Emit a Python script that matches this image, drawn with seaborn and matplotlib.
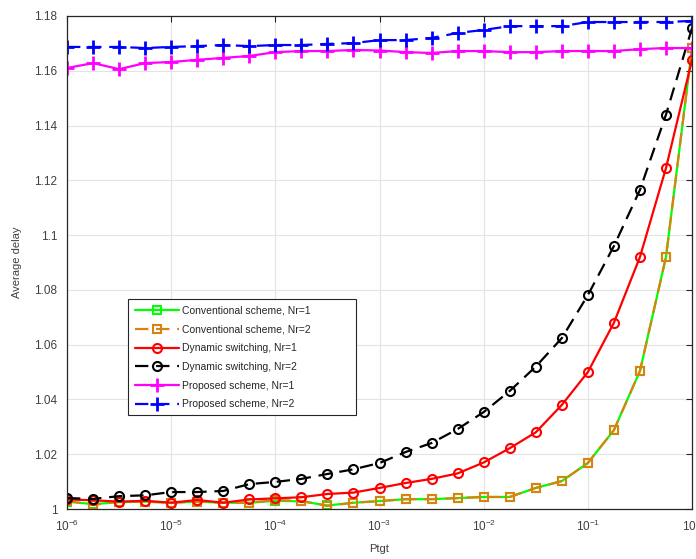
import numpy as np
import pandas as pd
import matplotlib
matplotlib.use("Agg")
import matplotlib.pyplot as plt
import matplotlib.ticker as mticker
from matplotlib.patches import Rectangle
import seaborn as sns

# x axis: Ptgt, 4 points per decade from 1e-6 to 1
ptgt = np.logspace(-6, 0, 25)

conv_nr1 = [1.0027, 1.0018, 1.0025, 1.0027, 1.0023, 1.0027, 1.0023, 1.0023, 1.0030, 1.0028, 1.0013,
            1.0023, 1.0029, 1.0036, 1.0036, 1.0040, 1.0044, 1.0044, 1.0077, 1.0102, 1.0168, 1.0288,
            1.0504, 1.0920, 1.1683]
conv_nr2 = [1.0030, 1.0015, 1.0027, 1.0027, 1.0023, 1.0027, 1.0023, 1.0023, 1.0033, 1.0030, 1.0011,
            1.0023, 1.0029, 1.0036, 1.0036, 1.0040, 1.0044, 1.0044, 1.0077, 1.0102, 1.0168, 1.0288,
            1.0504, 1.0920, 1.1683]
dyn_nr1 = [1.0035, 1.0032, 1.0027, 1.0030, 1.0023, 1.0033, 1.0023, 1.0035, 1.0039, 1.0043, 1.0055,
           1.0060, 1.0077, 1.0095, 1.0110, 1.0130, 1.0170, 1.0222, 1.0280, 1.0380, 1.0500, 1.0680,
           1.0920, 1.1245, 1.1640]
dyn_nr2 = [1.0040, 1.0037, 1.0047, 1.0050, 1.0062, 1.0062, 1.0066, 1.0091, 1.0099, 1.0110, 1.0128,
           1.0145, 1.0168, 1.0208, 1.0241, 1.0292, 1.0354, 1.0431, 1.0520, 1.0624, 1.0781, 1.0960,
           1.1165, 1.1440, 1.1756]
prop_nr1 = [1.1610, 1.1628, 1.1606, 1.1628, 1.1632, 1.1640, 1.1647, 1.1654, 1.1668, 1.1672, 1.1672,
            1.1676, 1.1674, 1.1668, 1.1665, 1.1672, 1.1672, 1.1668, 1.1668, 1.1672, 1.1672, 1.1672,
            1.1679, 1.1683, 1.1683]
prop_nr2 = [1.1687, 1.1687, 1.1687, 1.1683, 1.1687, 1.1690, 1.1694, 1.1690, 1.1694, 1.1694, 1.1698,
            1.1701, 1.1712, 1.1712, 1.1720, 1.1738, 1.1749, 1.1763, 1.1763, 1.1763, 1.1778, 1.1778,
            1.1778, 1.1778, 1.1782]

labels = ["Conventional scheme, Nr=1", "Conventional scheme, Nr=2",
          "Dynamic switching, Nr=1", "Dynamic switching, Nr=2",
          "Proposed scheme, Nr=1", "Proposed scheme, Nr=2"]
series = [conv_nr1, conv_nr2, dyn_nr1, dyn_nr2, prop_nr1, prop_nr2]
colors = ["#00ff00", "#d9820f", "#ff0000", "#000000", "#ff00ff", "#0000ff"]
markers = ["s", "s", "o", "o", "+", "+"]
styles = ["-", "--", "-", "--", "-", "--"]
msizes = [5.5, 5.5, 6.5, 6.5, 10, 10]

sns.set_style("whitegrid")
plt.rcParams['font.family'] = ['Liberation Sans', 'DejaVu Sans']

fig = plt.figure(figsize=(6.96, 5.59), dpi=100)
ax = fig.add_axes([0.0963, 0.0894, 0.8980, 0.8820])

for y, lab, c, m, ls, ms in zip(series, labels, colors, markers, styles, msizes):
    kw = dict(markerfacecolor="none", markeredgewidth=1.5)
    if m == "+":
        kw = dict(markeredgewidth=2)
    sns.lineplot(x=ptgt, y=y, ax=ax, color=c, marker=m, markersize=ms,
                 markeredgecolor=c, linewidth=1.6, label=lab, **kw)
    if ls == "--":
        ax.lines[-1].set_dashes((6, 3.5))

ax.set_xscale("log")
ax.set_xlim(1e-6, 1)
ax.set_ylim(1, 1.18)
ax.set_yticks(np.arange(1, 1.1801, 0.02))
ax.yaxis.set_major_formatter(mticker.FuncFormatter(lambda v, p: "%g" % round(v, 2)))
ax.xaxis.set_major_locator(mticker.LogLocator(base=10, numticks=10))
ax.xaxis.set_minor_locator(mticker.NullLocator())

ax.grid(True, color="#e3e3e3", linewidth=0.8)
for s in ax.spines.values():
    s.set_color("#262626")
    s.set_linewidth(0.9)
    s.set_visible(True)
ax.tick_params(direction="in", length=4, width=0.8, colors="#262626", labelcolor="#404040",
               labelsize=8.5, top=True, right=True, pad=7)

ax.set_xlabel("Ptgt", fontsize=8, color="#404040", labelpad=7)
ax.set_ylabel("Average delay", fontsize=8, color="#404040", labelpad=9)

# legend box drawn separately, MATLAB-style wide frame
ax.add_patch(Rectangle((0.0976, 0.1907), 0.3648, 0.2353, transform=ax.transAxes,
                       facecolor="white", edgecolor="#262626", linewidth=0.8, zorder=4))
leg = ax.legend(loc="upper left", bbox_to_anchor=(0.1088, 0.4118), borderaxespad=0,
                fontsize=7.5, frameon=False, handlelength=4.2,
                labelspacing=0.83, borderpad=0, handletextpad=0.3)
leg.set_zorder(5)

fig.savefig("out.png", dpi=100)
